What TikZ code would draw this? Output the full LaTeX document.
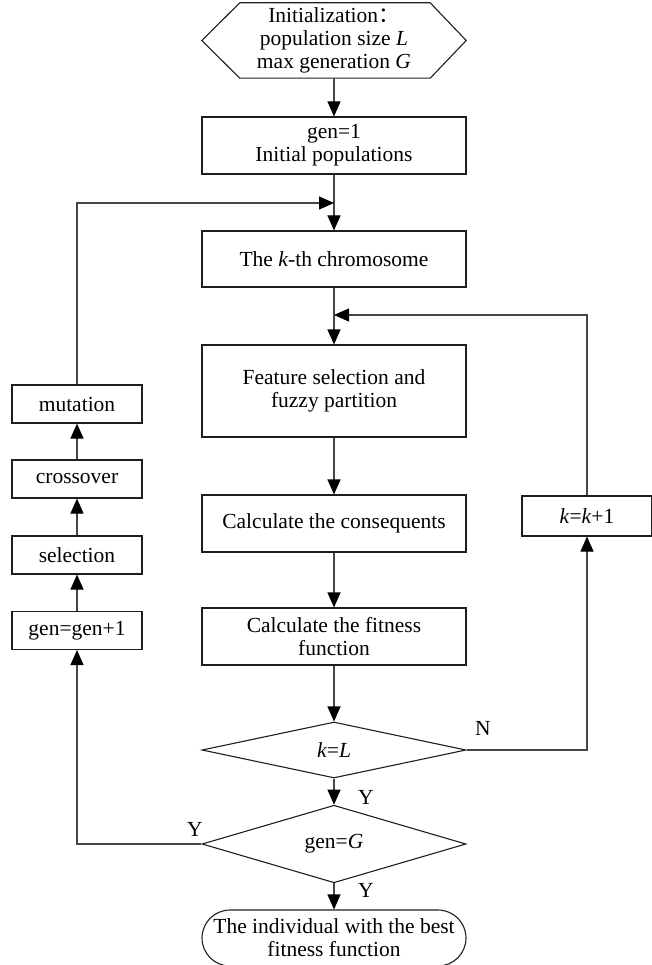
\documentclass[tikz,border=0pt]{standalone}
\usepackage{fontspec}
\setmainfont{Liberation Serif}
\newfontfamily\cjk{Noto Sans CJK SC}
\usetikzlibrary{shapes.geometric, shapes.misc, arrows.meta, positioning, calc}
\definecolor{flow-line}{RGB}{70,70,70}
\definecolor{flow-edge}{RGB}{30,30,30}

\begin{document}
\begin{tikzpicture}[x=1pt, y=-1pt,
  every node/.style={font=\fontsize{21.5}{23}\selectfont},
  box/.style={draw=flow-edge, line width=1.1pt, minimum width=264pt, align=center, inner sep=0pt},
  sidebox/.style={draw=flow-edge, line width=1.1pt, minimum width=130pt, minimum height=38pt, align=center, inner sep=0pt},
  decision/.style={draw=flow-edge, line width=1.1pt, diamond, minimum width=264pt, minimum height=56pt, inner sep=0pt},
  arrow/.style={-{Triangle[length=15pt, width=13pt, color=black]}, line width=1.1pt, flow-line},
]
  \useasboundingbox (0,0) rectangle (652,965);

  % Main column
  \node[minimum width=264pt, minimum height=75pt, inner sep=0pt, align=center] (init) at (334,40.5)
    {Initialization{\cjk ：}\\population size \textit{L}\\max generation \textit{G}};
  \draw[draw=flow-edge, line width=1.1pt] (init.west) -- ($(init.north west)+(38,0)$) -- ($(init.north east)+(-36,0)$)
    -- (init.east) -- ($(init.south east)+(-36,0)$) -- ($(init.south west)+(38,0)$) -- cycle;
  \node[box, minimum height=57pt] (pop) at (334,145.5) {gen=1\\Initial populations};
  \node[box, minimum height=56pt] (chrom) at (334,259) {The \textit{k}-th chromosome};
  \node[box, minimum height=92pt] (feat) at (334,391) {Feature selection and\\fuzzy partition};
  \node[box, minimum height=57pt] (conseq) at (334,523.5) {Calculate the consequents};
  \node[box, minimum height=57pt] (fitness) at (334,636.5) {Calculate the fitness\\function};
  \node[decision] (dkl) at (334,750) {\textit{k}=\textit{L}};
  \node[decision] (dgen) at (334,844) {gen=\textit{G}};
  \node[draw=flow-edge, line width=1.1pt, rounded rectangle, minimum width=264pt, minimum height=56pt,
    inner sep=0pt, align=center] (best) at (334,938) {The individual with the best\\fitness function};

  % Side columns
  \node[sidebox, minimum height=40pt] (kinc) at (587,516) {\textit{k}=\textit{k}+1};
  \node[sidebox] (mut) at (77,404) {mutation};
  \node[sidebox] (cross) at (77,479) {crossover};
  \node[sidebox] (sel) at (77,555) {selection};
  \node[sidebox] (geninc) at (77,630.5) {gen=gen+1};

  % Join points
  \coordinate (jointop) at (334,203);
  \coordinate (joinright) at (334,315);

  % Labels
  \node (lblN) at (483,728) {N};
  \node (lblY1) at (366,797) {Y};
  \node (lblY2) at (366,890) {Y};
  \node (lblY3) at (195,829) {Y};

  % Arrows
  \draw[arrow] (init) -- (pop);
  \draw[arrow] (pop) -- (chrom);
  \draw[arrow] (mut.north) |- (jointop);
  \draw[arrow] (chrom) -- (feat);
  \draw[arrow] (kinc.north) |- (joinright);
  \draw[arrow] (feat) -- (conseq);
  \draw[arrow] (conseq) -- (fitness);
  \draw[arrow] (fitness) -- (dkl);
  \draw[arrow] (dkl) -- (dgen);
  \draw[arrow] (dgen) -- (best);
  \draw[arrow] (dkl.east) -| (kinc.south);
  \draw[arrow] (dgen.west) -| (geninc.south);
  \draw[arrow] (geninc) -- (sel);
  \draw[arrow] (sel) -- (cross);
  \draw[arrow] (cross) -- (mut);
\end{tikzpicture}
\end{document}
